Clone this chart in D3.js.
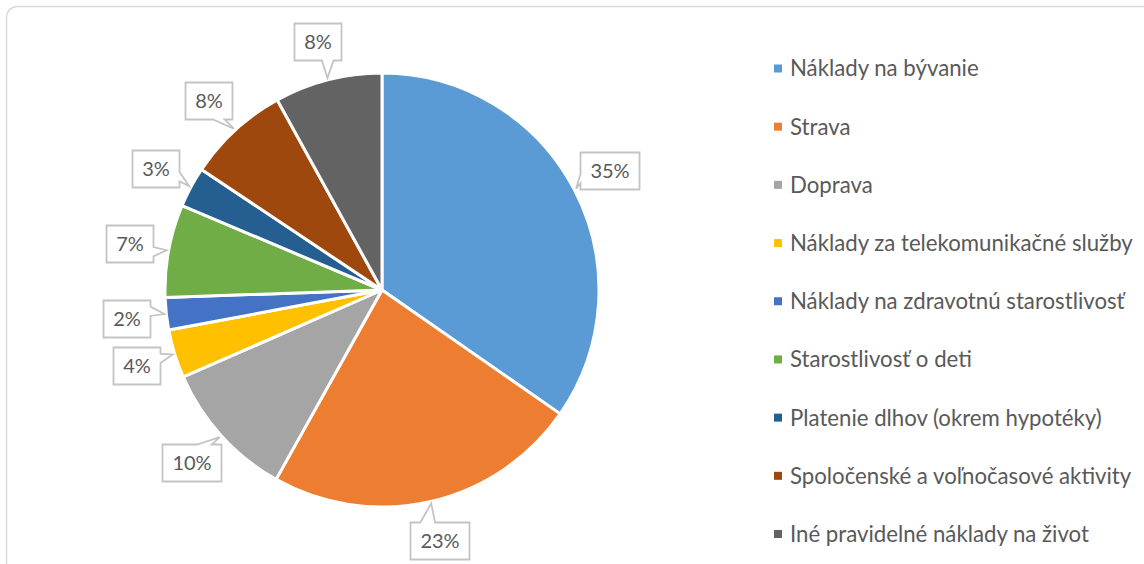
<!DOCTYPE html>
<html>
<head>
<meta charset="utf-8">
<script src="https://cdn.jsdelivr.net/npm/d3@7"></script>
<style>
  html, body { margin: 0; padding: 0; background: #ffffff; }
  svg { display: block; }
  text { font-family: Lato, "Open Sans", "Noto Sans", sans-serif; fill: #595959; }
</style>
</head>
<body>
<script>
const categories = [
  "Náklady na bývanie",
  "Strava",
  "Doprava",
  "Náklady za telekomunikačné služby",
  "Náklady na zdravotnú starostlivosť",
  "Starostlivosť o deti",
  "Platenie dlhov (okrem hypotéky)",
  "Spoločenské a voľnočasové aktivity",
  "Iné pravidelné náklady na život"
];
const values = [34.6, 23.4, 10.3, 3.6, 2.4, 6.9, 3.0, 7.6, 8.0];
const colors = ["#5B9BD5", "#ED7D31", "#A5A5A5", "#FFC000", "#4472C4", "#70AD47", "#255E91", "#9E480E", "#636363"];

const W = 1144, H = 564;
const cx = 382, cy = 290, R = 217, labelR = 257;

const svg = d3.select("body").append("svg").attr("width", W).attr("height", H);

svg.append("rect")
  .attr("x", 6.5).attr("y", 6.5).attr("width", 1160).attr("height", 580)
  .attr("rx", 11).attr("fill", "#fff").attr("stroke", "#d9d9d9").attr("stroke-width", 1.5);

const total = d3.sum(values);
const pie = d3.pie().sort(null).value(d => d);
const arcs = pie(values);
const arc = d3.arc().innerRadius(0).outerRadius(R);

const g = svg.append("g").attr("transform", `translate(${cx},${cy})`);
g.selectAll("path.slice").data(arcs).join("path")
  .attr("class", "slice")
  .attr("d", arc)
  .attr("fill", (d, i) => colors[i])
  .attr("stroke", "#fff")
  .attr("stroke-width", 3)
  .attr("stroke-linejoin", "round");

function fitSize(str, targetWidth, base) {
  const t = svg.append("text").attr("font-size", base).text(str);
  const w = t.node().getComputedTextLength();
  t.remove();
  return base * targetWidth / w;
}
const labelFont = 20;
const legendFont = fitSize("Náklady za telekomunikačné služby", 343, 20);

function callout(x0, y0, w, h, tx, ty) {
  const x1 = x0 + w, y1 = y0 + h;
  const mx = x0 + w / 2, my = y0 + h / 2;
  const dx = tx - mx, dy = ty - my;
  if (tx >= x0 && tx <= x1 && ty >= y0 && ty <= y1) {
    return `M${x0},${y0}H${x1}V${y1}H${x0}Z`;
  }
  if (Math.abs(dx) / w > Math.abs(dy) / h) {
    const ya = y0 + h * (dy < 0 ? 2 / 12 : 7 / 12), yb = y0 + h * (dy < 0 ? 5 / 12 : 10 / 12);
    if (dx < 0) return `M${x0},${y0}H${x1}V${y1}H${x0}V${yb}L${tx},${ty}L${x0},${ya}Z`;
    return `M${x0},${y0}H${x1}V${ya}L${tx},${ty}L${x1},${yb}V${y1}H${x0}Z`;
  } else {
    const xa = x0 + w * (dx < 0 ? 2 / 12 : 7 / 12), xb = x0 + w * (dx < 0 ? 5 / 12 : 10 / 12);
    if (dy < 0) return `M${x0},${y0}H${xa}L${tx},${ty}L${xb},${y0}H${x1}V${y1}H${x0}Z`;
    return `M${x0},${y0}H${x1}V${y1}H${xb}L${tx},${ty}L${xa},${y1}H${x0}Z`;
  }
}

const fmt = d3.format(".0%");
const lab = svg.append("g");
arcs.forEach((d, i) => {
  const a = (d.startAngle + d.endAngle) / 2;
  const txt = fmt(d.value / total);
  const bw = 12 * txt.length + 23, bh = 37;
  const bx = cx + labelR * Math.sin(a), by = cy - labelR * Math.cos(a);
  const x0 = Math.round(bx - bw / 2) + 0.5, y0 = Math.round(by - bh / 2) + 0.5;
  const tx = cx + (R + 2) * Math.sin(a), ty = cy - (R + 2) * Math.cos(a);
  lab.append("path")
    .attr("d", callout(x0, y0, bw, bh, tx, ty))
    .attr("fill", "#fff").attr("stroke", "#c4c4c4").attr("stroke-width", 1.8)
    .attr("stroke-linejoin", "miter");
  lab.append("text")
    .attr("x", x0 + bw / 2).attr("y", y0 + bh / 2)
    .attr("dy", "0.36em")
    .attr("text-anchor", "middle")
    .attr("font-size", labelFont)
    .text(txt);
});

const legY = d3.scalePoint().domain(categories).range([68.5, 534]);
const leg = svg.append("g");
categories.forEach((c, i) => {
  const y = legY(c);
  leg.append("rect").attr("x", 774).attr("y", y - 4).attr("width", 8).attr("height", 8).attr("fill", colors[i]);
  leg.append("text").attr("x", 790).attr("y", y).attr("dy", "0.36em")
    .attr("font-size", legendFont).text(c);
});
</script>
</body>
</html>
